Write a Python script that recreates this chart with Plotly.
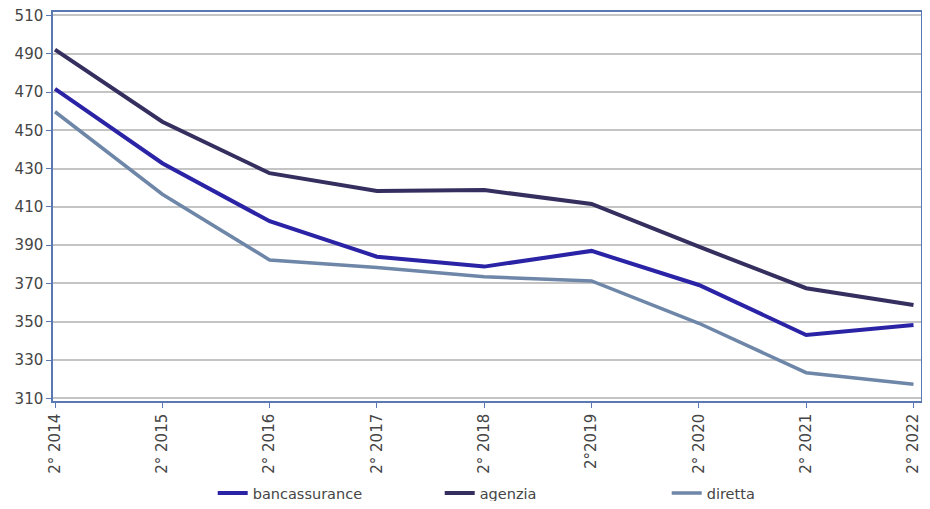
import plotly.graph_objects as go

categories = ["2° 2014", "2° 2015", "2° 2016", "2° 2017", "2° 2018", "2°2019", "2° 2020", "2° 2021", "2° 2022"]
bancassurance = [471.7, 432.8, 402.5, 384.0, 378.8, 387.0, 369.2, 343.1, 348.3]
agenzia = [492.1, 454.5, 427.6, 418.3, 418.8, 411.5, 389.2, 367.5, 358.7]
diretta = [459.7, 416.6, 382.3, 378.4, 373.5, 371.3, 349.2, 323.4, 317.3]
y_ticks = list(range(310, 511, 20))

FONT = "DejaVu Sans, Verdana, sans-serif"
TEXT = "#454545"
FRAME = "#5A78B4"

fig = go.Figure()
series = [
    ("bancassurance", bancassurance, "#2A23A6", 4),
    ("agenzia", agenzia, "#342F5E", 4),
    ("diretta", diretta, "#6E86A7", 3.5),
]
for name, vals, col, w in series:
    fig.add_trace(go.Scatter(x=categories, y=vals, name=name, mode="lines",
                             line=dict(color=col, width=w)))

fig.update_layout(
    width=914, height=493,
    margin=dict(l=45, r=1, t=4, b=100, autoexpand=False),
    paper_bgcolor="white", plot_bgcolor="white",
    font=dict(family=FONT, size=15, color=TEXT),
    showlegend=True,
    legend=dict(orientation="h", x=0.184, xanchor="left", y=-0.2365, yanchor="middle",
                entrywidth=182, entrywidthmode="pixels",
                font=dict(size=14.5, color=TEXT), bgcolor="rgba(0,0,0,0)"),
)
fig.update_xaxes(
    type="category", range=[-0.0186, 8.07], automargin=False,
    showline=True, mirror=True, linecolor=FRAME, linewidth=1.5,
    ticks="outside", ticklen=5, tickcolor=FRAME,
    tickangle=-90, showgrid=False, ticklabeloverflow="allow",
    tickfont=dict(size=15, color=TEXT),
)
fig.update_yaxes(
    range=[308.6, 511.8], tickvals=y_ticks, automargin=False,
    showline=True, mirror=True, linecolor=FRAME, linewidth=1.5,
    ticks="outside", ticklen=5, tickcolor=FRAME, ticklabeloverflow="allow",
    showgrid=True, gridcolor="#C4C4C4", gridwidth=1.5,
    zeroline=False, tickfont=dict(size=15, color=TEXT),
)

fig.write_html("out.html")
